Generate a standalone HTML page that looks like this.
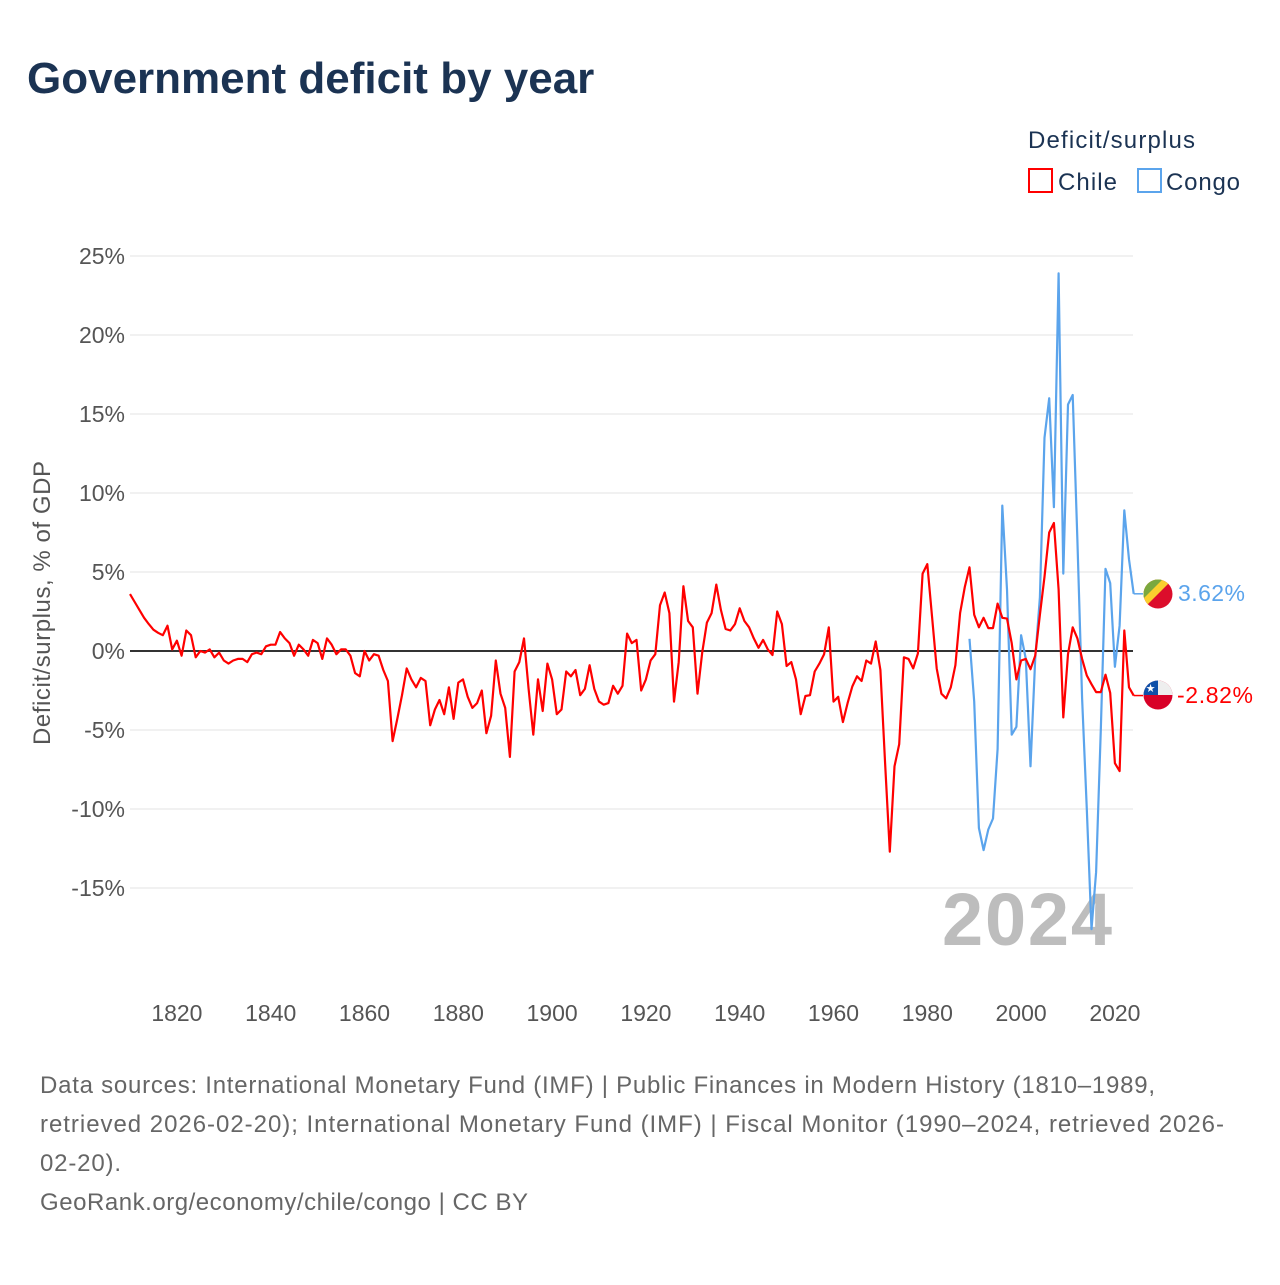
<!DOCTYPE html>
<html><head><meta charset="utf-8"><style>
body{margin:0;background:#fff;width:1280px;height:1280px;overflow:hidden;font-family:"Liberation Sans",sans-serif}
</style></head><body>
<svg id="chart" width="1280" height="1280" xmlns="http://www.w3.org/2000/svg" style="font-family:'Liberation Sans',sans-serif">
<text x="27" y="93" font-size="44" font-weight="bold" fill="#1b3353">Government deficit by year</text>
<g>
<text x="1028" y="148" font-size="24" fill="#1b3353" textLength="167">Deficit/surplus</text>
<rect x="1029" y="169" width="23" height="23" fill="none" stroke="#ff0000" stroke-width="2"/>
<text x="1058" y="190" font-size="24" fill="#1b3353" textLength="59">Chile</text>
<rect x="1138" y="169" width="23" height="23" fill="none" stroke="#5ba4ec" stroke-width="2"/>
<text x="1166" y="190" font-size="24" fill="#1b3353" textLength="74">Congo</text>
</g>
<g id="grid"></g>
<g id="yticks"></g>
<g id="xticks"></g>
<text transform="translate(50,603) rotate(-90)" text-anchor="middle" font-size="24" fill="#555" textLength="284">Deficit/surplus, % of GDP</text>
<text x="1112" y="945" text-anchor="end" font-size="74" font-weight="bold" fill="#bdbdbd" textLength="170">2024</text>
<g id="series"></g>
<defs>
<clipPath id="c1"><circle cx="1158" cy="594" r="14.5"/></clipPath>
<clipPath id="c2"><circle cx="1158" cy="695" r="14.5"/></clipPath>
</defs>
<g clip-path="url(#c1)">
<rect x="1143" y="579" width="30" height="30" fill="#dc0d2b"/>
<polygon points="1143,579 1173,579 1143,609" fill="#fad02e"/>
<polygon points="1143,579 1163,579 1143,599" fill="#7aa83f"/>
</g>
<g clip-path="url(#c2)">
<rect x="1143" y="680" width="30" height="30" fill="#d80027"/>
<rect x="1143" y="680" width="30" height="15" fill="#eeeeee"/>
<rect x="1143" y="680" width="15" height="15" fill="#0f4fa8"/>
<text x="1150.5" y="692" font-size="11" fill="#fff" text-anchor="middle">★</text>
</g>
<text x="1178" y="601" font-size="23" fill="#5ba4ec" textLength="67">3.62%</text>
<text x="1177" y="703" font-size="23" fill="#ff0000" textLength="76">-2.82%</text>
<g font-size="24" fill="#666">
<text x="40" y="1093" textLength="1115">Data sources: International Monetary Fund (IMF) | Public Finances in Modern History (1810–1989,</text>
<text x="40" y="1132" textLength="1184">retrieved 2026-02-20); International Monetary Fund (IMF) | Fiscal Monitor (1990–2024, retrieved 2026-</text>
<text x="40" y="1171" textLength="81">02-20).</text>
<text x="40" y="1210" textLength="488">GeoRank.org/economy/chile/congo | CC BY</text>
</g>
</svg>
<script>
const chileStart = 1810;
const chileValues = [3.6,3.1,2.6,2.1,1.7,1.35,1.15,1.0,1.6,0.1,0.65,-0.3,1.3,1.0,-0.4,0.0,-0.1,0.1,-0.4,-0.1,-0.6,-0.8,-0.6,-0.5,-0.5,-0.7,-0.2,-0.1,-0.2,0.3,0.4,0.4,1.2,0.8,0.5,-0.3,0.4,0.1,-0.3,0.7,0.5,-0.5,0.8,0.4,-0.2,0.1,0.1,-0.3,-1.4,-1.6,0.0,-0.6,-0.2,-0.3,-1.2,-1.9,-5.7,-4.3,-2.8,-1.1,-1.8,-2.3,-1.7,-1.9,-4.7,-3.7,-3.1,-4.0,-2.3,-4.3,-2.0,-1.8,-2.9,-3.6,-3.3,-2.5,-5.2,-4.1,-0.6,-2.7,-3.6,-6.7,-1.3,-0.7,0.8,-2.4,-5.3,-1.8,-3.8,-0.8,-1.8,-4.0,-3.7,-1.3,-1.6,-1.2,-2.8,-2.4,-0.9,-2.4,-3.2,-3.4,-3.3,-2.2,-2.7,-2.2,1.1,0.5,0.7,-2.5,-1.8,-0.6,-0.2,2.9,3.7,2.4,-3.2,-0.7,4.1,1.9,1.5,-2.7,-0.1,1.8,2.4,4.2,2.6,1.4,1.3,1.7,2.7,1.9,1.5,0.8,0.2,0.7,0.1,-0.25,2.5,1.7,-0.95,-0.7,-1.8,-4.0,-2.85,-2.8,-1.3,-0.8,-0.2,1.5,-3.2,-2.9,-4.5,-3.3,-2.25,-1.6,-1.9,-0.6,-0.8,0.6,-1.2,-7.1,-12.7,-7.3,-5.9,-0.4,-0.5,-1.1,-0.15,4.9,5.5,2.2,-1.1,-2.7,-3.0,-2.3,-0.9,2.4,4.05,5.3,2.3,1.5,2.1,1.45,1.45,3.0,2.1,2.05,0.5,-1.8,-0.6,-0.5,-1.15,-0.3,2.3,4.7,7.5,8.1,3.9,-4.2,-0.2,1.5,0.8,-0.5,-1.55,-2.1,-2.6,-2.6,-1.5,-2.65,-7.1,-7.6,1.3,-2.3,-2.82];
const congoStart = 1989;
const congoValues = [0.77,-3.2,-11.2,-12.6,-11.3,-10.6,-6.2,9.2,3.9,-5.3,-4.8,1.0,-0.5,-7.3,-0.5,3.4,13.5,16.0,9.1,23.9,4.9,15.6,16.2,7.0,-3.0,-10.0,-17.6,-14.0,-5.0,5.2,4.3,-1.0,1.6,8.9,5.8,3.62];
const yTicks = [25,20,15,10,5,0,-5,-10,-15];
const yTickLabels = ["25%","20%","15%","10%","5%","0%","-5%","-10%","-15%"];
const xTicks = [1820,1840,1860,1880,1900,1920,1940,1960,1980,2000,2020];

const NS = "http://www.w3.org/2000/svg";
function xScale(yr){return 130 + (yr-1810)*(1115-177)/200;}
function yScale(v){return 651 - v*(651-256)/25;}
function mk(tag, attrs, parent){const e=document.createElementNS(NS,tag);for(const k in attrs)e.setAttribute(k,attrs[k]);parent.appendChild(e);return e;}

const grid=document.getElementById('grid'), yt=document.getElementById('yticks'), xt=document.getElementById('xticks'), ser=document.getElementById('series');
yTicks.forEach((v,i)=>{
  const l=mk('line',{x1:130,x2:1133,y1:yScale(v),y2:yScale(v),stroke:v===0?'#333':'#e3e3e3','stroke-width':v===0?2:1},v===0?ser:grid);
  
  
  const t=mk('text',{x:125,y:yScale(v)+8,'text-anchor':'end','font-size':23,fill:'#555'},yt);
  t.textContent=yTickLabels[i];
  
  
});
xTicks.forEach(yr=>{
  const t=mk('text',{x:xScale(yr),y:1021,'text-anchor':'middle','font-size':23,fill:'#555'},xt);
  t.textContent=yr;
  
  
});
function line(start, vals, color, name){
  const pts=vals.map((v,i)=>xScale(start+i).toFixed(1)+','+yScale(v).toFixed(1)).join(' ');
  const p=mk('polyline',{points:pts,fill:'none',stroke:color,'stroke-width':2.2,'stroke-linejoin':'round'},ser);
  
  
  const n=vals.length-1;
  const e=mk('line',{x1:xScale(start+n),y1:yScale(vals[n]),x2:1143,y2:yScale(vals[n]),stroke:color,'stroke-width':1.5},ser);
  
  
}
line(congoStart, congoValues, '#5ba4ec', 'congo-line');
line(chileStart, chileValues, '#ff0000', 'chile-line');
</script>
</body></html>
